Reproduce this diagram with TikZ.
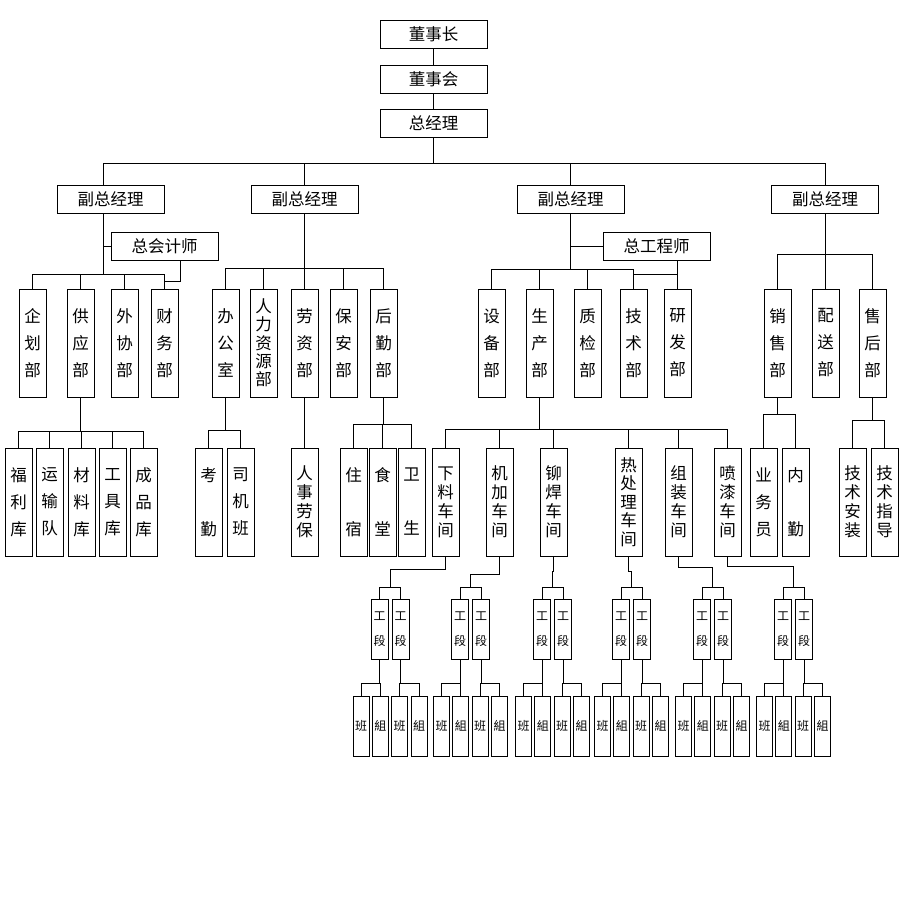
\documentclass[tikz,border=0pt]{standalone}
\usepackage{fontspec}
\newfontfamily\cjk{Noto Sans CJK SC}
\tikzset{
	hbox/.style={draw,minimum width=107pt,minimum height=28pt,inner sep=0pt,font=\cjk\fontsize{16.5}{16.5}\selectfont},
	vbox/.style={draw,minimum width=27pt,minimum height=108pt,inner sep=0pt,align=center,font=\cjk\fontsize{16.5}{#1}\selectfont},
	vbox/.default=27,
	gbox/.style={draw,minimum width=17pt,minimum height=60pt,inner sep=0pt,align=center,font=\cjk\fontsize{12}{25}\selectfont},
	bbox/.style={draw,minimum width=16pt,minimum height=60pt,inner sep=0pt,font=\cjk\fontsize{12}{12}\selectfont}
}
\begin{document}
\begin{tikzpicture}[x=1pt,y=-1pt,line width=0.9pt]
\useasboundingbox (0,0) rectangle (900,900);
\node[hbox] (dsz) at (433.5,34) {董事长};
\node[hbox] (dsh) at (433.5,79) {董事会};
\node[hbox] (zjl) at (433.5,123) {总经理};
\foreach \n/\x in {vp1/110.5,vp2/304.5,vp3/570.5,vp4/825}
	\node[hbox] (\n) at (\x,199) {副总经理};
\node[hbox] (kjs) at (164.5,246) {总会计师};
\node[hbox] (zgc) at (656.5,246) {总工程师};
\foreach \n/\x/\p/\t in {qh/32.5/27/企\\划\\部,gy/80.5/27/供\\应\\部,wx/124.5/27/外\\协\\部,cw/164.5/27/财\\务\\部,
	bgs/225.5/27/办\\公\\室,rl/263.5/18.3/人\\力\\资\\源\\部,lz/304.5/27/劳\\资\\部,ba/343.5/27/保\\安\\部,hq/383.5/27/后\\勤\\部,
	sb/491.5/27/设\\备\\部,sc/539.5/27/生\\产\\部,zj/587.5/27/质\\检\\部,js/633.5/27/技\\术\\部,yf/677.5/27/研\\发\\部,
	xs/777.5/27/销\\售\\部,ps/825.5/27/配\\送\\部,sh/872.5/27/售\\后\\部}
	\node[vbox=\p] (\n) at (\x,343) {\t};
\foreach \n/\x/\p/\t in {fl/18.5/27/福\\利\\库,ys/49.5/27/运\\输\\队,cl/81.5/27/材\\料\\库,gj/112.5/27/工\\具\\库,cp/143.5/27/成\\品\\库,
	kq/208.5/27/考\\[27pt]勤,sj/240.5/27/司\\机\\班,rs/304.5/19/人\\事\\劳\\保,
	zs/353.5/27/住\\[27pt]宿,st/382.5/27/食\\[27pt]堂,ws/411.5/27/卫\\[27pt]生,
	xl/445.5/19/下\\料\\车\\间,jj/499.5/19/机\\加\\车\\间,mh/553.5/19/铆\\焊\\车\\间,rcl/628.5/18.5/热\\处\\理\\车\\间,
	zz/678.5/19/组\\装\\车\\间,pq/727.5/19/喷\\漆\\车\\间,
	yw/763.5/27/业\\务\\员,nq/795.5/27/内\\[27pt]勤,jsaz/852.5/19/技\\术\\安\\装,jszd/884.5/19/技\\术\\指\\导}
	\node[vbox=\p] (\n) at (\x,502) {\t};
\draw (dsz) -- (dsh);
\draw (dsh) -- (zjl);
\draw (lz) -- (rs);
\coordinate (v1t) at ([xshift=-7.5pt]vp1.north);
\coordinate (v1b) at ([xshift=-7.5pt]vp1.south);
\draw (zjl.south) -- ++(0,26) -| (v1t);
\foreach \v in {vp2,vp3,vp4}
	\draw (zjl.south) -- ++(0,26) -| (\v.north);
\draw (v1b) |- (kjs.west);
\foreach \d in {qh,gy,wx,cw}
	\draw (v1b) -- ++(0,61) -| (\d.north);
\draw ([xshift=15.5pt]kjs.south) |- ([yshift=7pt]cw.north);
\draw (vp3.south) |- (zgc.west);
\draw (yf.north |- zgc.south) -- (yf.north);
\draw ([yshift=14pt]js.north) -- ([yshift=14pt]yf.north);
\foreach \p/\h/\cs in {vp2/55/{bgs,rl,lz,ba,hq},vp3/56/{sb,sc,zj,js},vp4/41/{xs,ps,sh},
	gy/34/{fl,ys,cl,gj,cp},bgs/33/{kq,sj},hq/27/{zs,st,ws},sc/32/{xl,jj,mh,rcl,zz,pq},xs/17/{yw,nq},sh/23/{jsaz,jszd}}
	\foreach \c in \cs
		\draw (\p.south) -- ++(0,\h) -| (\c.north);
\foreach \k/\M/\J/\w in {1/390/569/xl,2/470.5/574/jj,3/552.5/571/mh,4/631.5/571/rcl,5/712.5/567/zz,6/793.5/566/pq} {
	\node[gbox] (gd\k a) at (\M-10.5,629) {工\\段};
	\node[gbox] (gd\k b) at (\M+10.5,629) {工\\段};
	\node[bbox] (bz\k 1) at (\M-29,726) {班};
	\node[bbox] (bz\k 2) at (\M-9.7,726) {組};
	\node[bbox] (bz\k 3) at (\M+9.7,726) {班};
	\node[bbox] (bz\k 4) at (\M+29,726) {組};
	\coordinate (jg\k) at (\M,\J);
	\coordinate (bs\k) at (\M,587);
	\draw (\w.south) |- (jg\k) -- (bs\k) -| (gd\k a.north);
	\draw (bs\k) -| (gd\k b.north);
	\draw (gd\k a.south) -- ++(0,24) -| (bz\k 1.north);
	\draw (gd\k a.south) -- ++(0,24) -| (bz\k 2.north);
	\draw (gd\k b.south) -- ++(0,24) -| (bz\k 3.north);
	\draw (gd\k b.south) -- ++(0,24) -| (bz\k 4.north);
}
\end{tikzpicture}
\end{document}
